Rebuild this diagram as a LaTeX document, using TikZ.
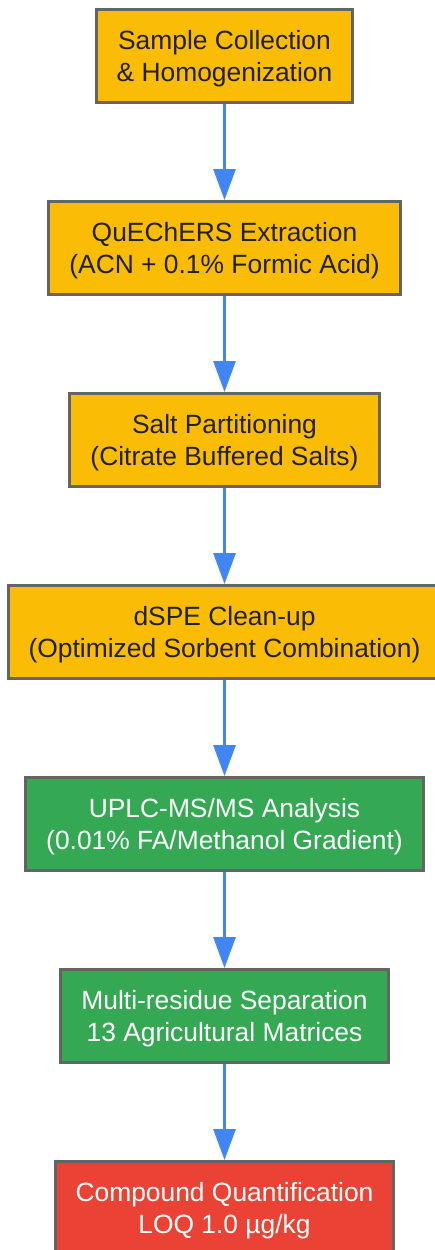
\documentclass[tikz,border=0pt]{standalone}
\usepackage{fontspec}
\setmainfont{Liberation Sans}
\usetikzlibrary{arrows.meta, positioning}
\definecolor{stepYellow}{HTML}{FBBC05}
\definecolor{stepGreen}{HTML}{34A853}
\definecolor{stepRed}{HTML}{EA4335}
\definecolor{stepBorder}{HTML}{646464}
\definecolor{flowBlue}{HTML}{4285F4}
\definecolor{darkText}{HTML}{202124}

\tikzset{
    stepbox/.style={draw=stepBorder, line width=3pt, rectangle, align=center,
        minimum height=93pt, inner xsep=20.5pt, inner ysep=0pt,
        text depth=-2pt,
        font=\fontsize{26.4}{31.7}\selectfont},
    prepbox/.style={stepbox, fill=stepYellow, text=darkText},
    runbox/.style={stepbox, fill=stepGreen, text=white},
    resultbox/.style={stepbox, fill=stepRed, text=white},
    flow/.style={draw=flowBlue, line width=3pt, -{Triangle[length=31pt, width=22pt]}}
}

\begin{document}
\begin{tikzpicture}[node distance=96pt]
    \useasboundingbox (0pt,0pt) rectangle (435pt,-1250pt);
    % preparation
    \node[prepbox] (sample) at (224.5pt,-56pt) {Sample Collection\\\& Homogenization};
    \node[prepbox, below=of sample] (quechers) {QuEChERS Extraction\\(ACN + 0.1\% Formic Acid)};
    \node[prepbox, below=of quechers] (salt) {Salt Partitioning\\(Citrate Buffered Salts)};
    \node[prepbox, below=of salt] (dspe) {dSPE Clean-up\\(Optimized Sorbent Combination)};
    % analysis
    \node[runbox, below=of dspe] (uplc) {UPLC-MS/MS Analysis\\(0.01\% FA/Methanol Gradient)};
    \node[runbox, below=of uplc] (separation) {Multi-residue Separation\\13 Agricultural Matrices};
    \node[resultbox, below=of separation] (quant) {Compound Quantification\\LOQ 1.0 µg/kg};

    \draw[flow] (sample) -- (quechers);
    \draw[flow] (quechers) -- (salt);
    \draw[flow] (salt) -- (dspe);
    \draw[flow] (dspe) -- (uplc);
    \draw[flow] (uplc) -- (separation);
    \draw[flow] (separation) -- (quant);
\end{tikzpicture}
\end{document}
